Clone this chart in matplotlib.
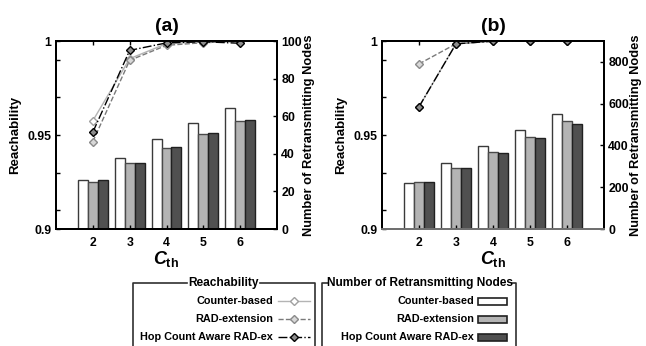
import numpy as np
import matplotlib.pyplot as plt
from matplotlib.lines import Line2D
from matplotlib.patches import Rectangle

plt.rcParams['font.family'] = ['Liberation Sans', 'DejaVu Sans']
plt.rcParams['font.weight'] = 'bold'
plt.rcParams['axes.labelweight'] = 'bold'
plt.rcParams['axes.titleweight'] = 'bold'
plt.rcParams['mathtext.fontset'] = 'custom'
plt.rcParams['mathtext.it'] = 'Liberation Sans:italic:bold'
plt.rcParams['mathtext.bf'] = 'Liberation Sans:bold'
plt.rcParams['mathtext.rm'] = 'Liberation Sans:bold'

cth = [2, 3, 4, 5, 6]
methods = ['Counter-based', 'RAD-extension', 'Hop Count Aware RAD-ex']

# panel (a): reachability (left axis)
reach_a_counter = [0.9576, 0.9906, 0.9986, 0.9996, 1.0]
reach_a_rad = [0.9465, 0.9897, 0.9977, 0.9991, 0.9998]
reach_a_hop = [0.9515, 0.9950, 0.9990, 0.9996, 0.9988]
# panel (a): number of retransmitting nodes (right axis)
nodes_a_counter = [26.0, 38.0, 48.0, 56.3, 64.2]
nodes_a_rad = [25.1, 35.1, 43.3, 50.3, 57.2]
nodes_a_hop = [25.8, 35.1, 43.7, 50.8, 57.8]

# panel (b)
reach_b_counter = [0.9650, 0.9985, 0.9999, 0.9999, 0.9999]
reach_b_rad = [0.9878, 0.9985, 0.9999, 0.9999, 0.9999]
reach_b_hop = [0.9650, 0.9985, 0.9999, 0.9999, 0.9999]
nodes_b_counter = [222, 314, 397, 472, 550]
nodes_b_rad = [225, 292, 369, 442, 515]
nodes_b_hop = [225, 292, 364, 437, 505]

line_styles = [
    dict(color='#b4b4b4', ls='-', marker='D', ms=4.5, mfc='white', mec='#a0a0a0', lw=1.0),
    dict(color='#7a7a7a', ls='--', marker='D', ms=4.5, mfc='#d8d8d8', mec='#8a8a8a', lw=1.0),
    dict(color='black', ls='-.', marker='D', ms=4.5, mfc='#8c8c8c', mec='black', lw=1.0),
]
bar_styles = [
    dict(color='white', edgecolor='#3a3a3a'),
    dict(color='#b4b4b4', edgecolor='#4a4a4a'),
    dict(color='#505050', edgecolor='#202020'),
]

W, H = 646, 346
fig = plt.figure(figsize=(W / 100, H / 100), dpi=100)


def fx(x):
    return x / W


def fy(y):
    return 1 - y / H


def panel(left, right, title, reach, nodes, nmax, nticks, bottom_col):
    ax = fig.add_axes([fx(left), fy(229), fx(right - left), (229 - 41) / H])
    ax2 = ax.twinx()
    ax.set_zorder(ax2.get_zorder() + 1)
    ax.patch.set_visible(False)

    x = np.array(cth)
    bw = 0.27
    for k in range(3):
        ax2.bar(x + (k - 1) * bw, nodes[k], width=bw, linewidth=1.0, **bar_styles[k])
    for k in range(3):
        ax.plot(cth, reach[k], **line_styles[k])

    ax.set_xlim(1, 7)
    ax.set_ylim(0.9, 1.0)
    ax.set_yticks([0.9, 0.95, 1.0])
    ax.set_yticklabels(['0.9', '0.95', '1'])
    ax.set_yticks([0.91, 0.93, 0.97, 0.99], minor=True)
    ax.set_xticks(cth)
    ax.tick_params(axis='both', which='both', direction='in', labelsize=8.8,
                   top=True, length=3, width=1.0)
    ax.tick_params(axis='x', pad=6)
    ax2.set_ylim(0, nmax)
    ax2.set_yticks(nticks)
    ax2.tick_params(axis='y', direction='in', labelsize=8.8, length=3, width=1.0, pad=3)

    for a in (ax, ax2):
        for s in a.spines.values():
            s.set_linewidth(1.4)
    ax.spines['bottom'].set_color(bottom_col)
    ax2.spines['bottom'].set_color(bottom_col)

    ax.set_ylabel('Reachability', fontsize=9.5, labelpad=4)
    ax2.set_ylabel('Number of Retransmitting Nodes', fontsize=9.3, labelpad=1)
    ax.set_xlabel(r'$\mathit{C}_{\mathbf{th}}$', fontsize=13, labelpad=0)
    ax.set_title(title, fontsize=14, pad=7)
    return ax


panel(56, 277, '(a)',
      [reach_a_counter, reach_a_rad, reach_a_hop],
      [nodes_a_counter, nodes_a_rad, nodes_a_hop],
      100, [0, 20, 40, 60, 80, 100], 'black')
panel(382, 604, '(b)',
      [reach_b_counter, reach_b_rad, reach_b_hop],
      [nodes_b_counter, nodes_b_rad, nodes_b_hop],
      900, [0, 200, 400, 600, 800], '#707070')

# legend boxes with the title sitting on the top border
def frame(x0, x1, y0, t0, t1, title):
    kw = dict(transform=fig.transFigure, color='#303030', lw=1.2)
    fig.lines.append(Line2D([fx(x0), fx(x0), fx(t0)], [fy(H + 5), fy(y0), fy(y0)], **kw))
    fig.lines.append(Line2D([fx(t1), fx(x1), fx(x1)], [fy(y0), fy(y0), fy(H + 5)], **kw))
    fig.text(fx((t0 + t1) / 2), fy(y0), title, ha='center', va='center',
             fontsize=8.6, fontweight='bold')


frame(133, 315, 283, 187, 260, 'Reachability')
frame(322, 516, 283, 328, 512, 'Number of Retransmitting Nodes')

rows = [301, 319, 337]
for k in range(3):
    y = rows[k]
    fig.text(fx(273), fy(y), methods[k], ha='right', va='center', fontsize=7.8)
    st = line_styles[k]
    fig.lines.append(Line2D([fx(278), fx(294), fx(310)], [fy(y)] * 3,
                            transform=fig.transFigure, markevery=[1], **st))
    fig.text(fx(474), fy(y), methods[k], ha='right', va='center', fontsize=7.8)
    fig.patches.append(Rectangle((fx(478), fy(y + 3.5)), fx(29), 7 / H,
                                 transform=fig.transFigure, linewidth=1.2,
                                 facecolor=bar_styles[k]['color'],
                                 edgecolor='#202020'))

fig.savefig('out.png', dpi=100)
